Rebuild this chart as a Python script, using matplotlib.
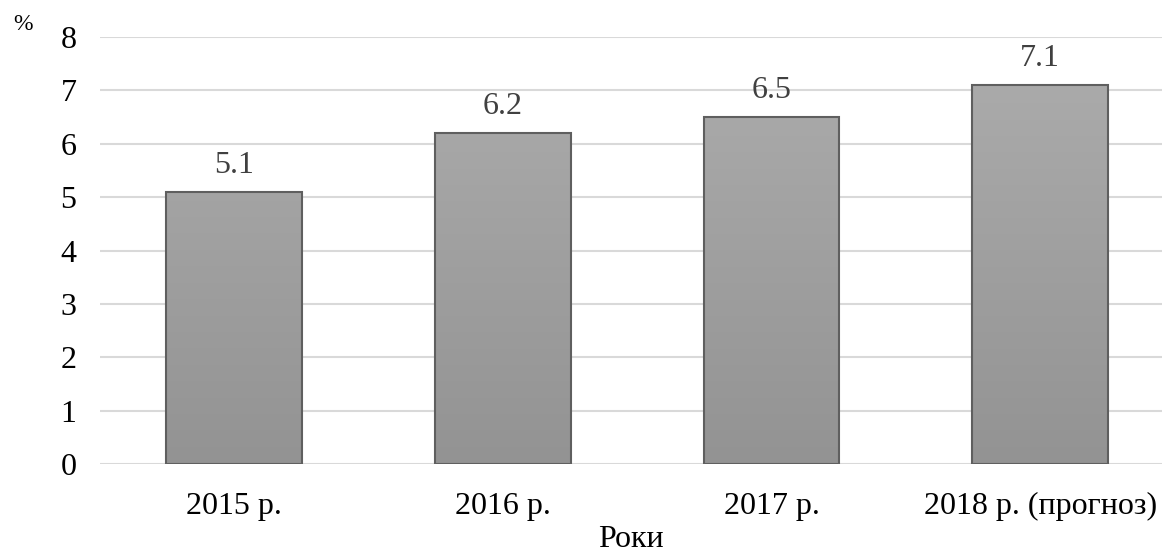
import matplotlib
matplotlib.use("Agg")
import matplotlib.pyplot as plt
import numpy as np

categories = ["2015 р.", "2016 р.", "2017 р.", "2018 р. (прогноз)"]
values = [5.1, 6.2, 6.5, 7.1]
yticks = [0, 1, 2, 3, 4, 5, 6, 7, 8]

plt.rcParams['font.family'] = ['Liberation Serif', 'DejaVu Serif']

fig = plt.figure(figsize=(11.62, 5.58), dpi=100)
ax = fig.add_axes([100/1162, 1 - 464/558, (1162-100)/1162, (464-37)/558])

x = np.arange(len(categories))
bars = ax.bar(x, values, width=0.505, color='none', edgecolor='#5f5f5f', linewidth=1.5, zorder=3)

cmap = matplotlib.colors.LinearSegmentedColormap.from_list('g', ['#939393', '#adadad'])
grad = np.linspace(0, 1, 256).reshape(-1, 1)
for b in bars:
    x0 = b.get_x()
    w = b.get_width()
    im = ax.imshow(grad, extent=[x0, x0 + w, 0, 8], origin='lower', aspect='auto',
                   cmap=cmap, zorder=2, interpolation='bilinear')
    im.set_clip_path(b)

for xi, v in zip(x, values):
    ax.text(xi, v + 0.22, f"{v:.1f}", ha='center', va='bottom', fontsize=23, color='#404040')

ax.set_xlim(-0.5, 3.453)
ax.set_ylim(0, 8)
ax.set_yticks(yticks)
ax.set_yticklabels([str(t) for t in yticks])
ax.set_xticks(x)
ax.set_xticklabels(categories)
ax.tick_params(axis='both', length=0, labelsize=23, colors='black')
ax.tick_params(axis='y', pad=17)
ax.tick_params(axis='x', pad=20)
for s in ax.spines.values():
    s.set_visible(False)
ax.yaxis.grid(True, color='#d9d9d9', linewidth=1.5, zorder=0)
ax.set_axisbelow(True)

ax.set_xlabel("Роки", fontsize=23, labelpad=3)
fig.text(23/1162, 1 - 25/558, "%", fontsize=17, ha='center', va='center')

fig.savefig("out.png", dpi=100)
